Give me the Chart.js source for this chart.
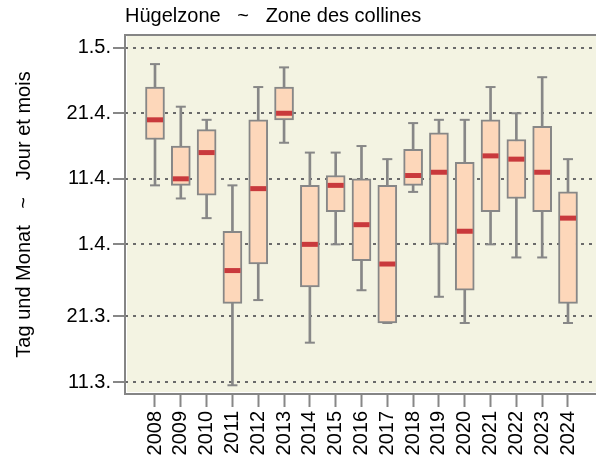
<!DOCTYPE html>
<html><head><meta charset="utf-8">
<script src="https://cdn.jsdelivr.net/npm/chart.js@4.4.1/dist/chart.umd.min.js"></script>
<style>html,body{margin:0;padding:0;background:#fff}canvas{display:block}</style>
</head><body>
<canvas id="c" width="596" height="466"></canvas>
<script>
// Values are days counted from 1 March (1 = 1.3., 32 = 1.4., 62 = 1.5.)
const years       = ['2008','2009','2010','2011','2012','2013','2014','2015','2016','2017','2018','2019','2020','2021','2022','2023','2024'];
const whiskerLow  = [41,   39,  36,   10.5, 23.5, 47.5, 17,   32,  25,   20,  40,   24,  20,   32,   30,  30,   20];
const boxLow      = [48,   41,  39.5, 23,   29,   51,   25.5, 37,  29.5, 20,  41,   32,  25,   37,   39,  37,   23];
const medians     = [51,   42,  46,   28,   40.5, 52,   32,   41,  35,   29,  42.5, 43,  34,   45.5, 45,  43,   36];
const boxHigh     = [56,   47,  49.5, 34,   51,   56,   41,   42.5,42,   41,  46.5, 49,  44.5, 51,   48,  50,   40];
const whiskerHigh = [59.5, 53,  51,   41,   56,   59,   46,   46,  47,   45,  50.5, 51,  51,   56,   52,  57.5, 45];
const yTickValues = [11, 21, 32, 42, 52, 62];
const yTickLabels = ['11.3.', '21.3.', '1.4.', '11.4.', '21.4.', '1.5.'];

const FONT = "'Liberation Sans', Arial, sans-serif";
const GRAY = '#878787';

const frame = {
  id: 'frame',
  beforeDraw(chart) {
    const {ctx, chartArea: a} = chart;
    ctx.save();
    ctx.fillStyle = '#f3f3e2';
    ctx.fillRect(a.left + 2, a.top + 1, a.right - a.left, a.bottom - a.top - 3);
    ctx.restore();
  },
  afterDraw(chart) {
    const {ctx, chartArea: a} = chart;
    ctx.save();
    ctx.strokeStyle = '#858585';
    ctx.lineWidth = 2;
    ctx.beginPath();
    ctx.moveTo(a.right + 4, a.top);
    ctx.lineTo(a.left, a.top);
    ctx.lineTo(a.left, a.bottom);
    ctx.lineTo(a.right + 4, a.bottom);
    ctx.stroke();
    ctx.restore();
  }
};

const idx = years.map((_, i) => i);

new Chart(document.getElementById('c'), {
  data: {
    datasets: [
      {
        type: 'scatter', label: 'median',
        data: idx.map(i => ({x: i, y: medians[i]})),
        pointStyle: 'line', radius: 8, hoverRadius: 8,
        borderColor: '#c9393c', borderWidth: 5, pointBorderWidth: 5
      },
      {
        type: 'scatter', label: 'capHigh',
        data: idx.map(i => ({x: i, y: whiskerHigh[i]})),
        pointStyle: 'line', radius: 5, hoverRadius: 5,
        borderColor: GRAY, borderWidth: 2
      },
      {
        type: 'scatter', label: 'capLow',
        data: idx.map(i => ({x: i, y: whiskerLow[i]})),
        pointStyle: 'line', radius: 5, hoverRadius: 5,
        borderColor: GRAY, borderWidth: 2
      },
      {
        type: 'bar', label: 'box', grouped: false,
        data: idx.map(i => ({x: i, y: [boxLow[i], boxHigh[i]]})),
        backgroundColor: '#fdd7ba', borderColor: GRAY, borderWidth: 2,
        borderSkipped: false, barThickness: 19
      },
      {
        type: 'bar', label: 'whisker', grouped: false,
        data: idx.map(i => ({x: i, y: [whiskerLow[i], whiskerHigh[i]]})),
        backgroundColor: GRAY, borderWidth: 0, barThickness: 2
      }
    ]
  },
  options: {
    responsive: false,
    animation: false,
    devicePixelRatio: 1,
    layout: {autoPadding: false, padding: {left: 0, right: 0, top: 0, bottom: 0}},
    plugins: {
      legend: {display: false},
      tooltip: {enabled: false},
      title: {
        display: true, text: 'Hügelzone   ~   Zone des collines',
        align: 'start', fullSize: false, color: '#000',
        font: {family: FONT, size: 20, weight: 'normal'},
        padding: {top: 4, bottom: 7}
      }
    },
    scales: {
      x: {
        type: 'linear', min: -1.162, max: 17.085, offset: false,
        afterBuildTicks: s => { s.ticks = idx.map(i => ({value: i})); },
        afterFit: s => { s.height = 72; s.paddingLeft = 0; s.paddingRight = 0; },
        grid: {offset: false, drawOnChartArea: false, drawTicks: true, tickLength: 13, tickColor: GRAY, tickWidth: 2},
        border: {display: false},
        ticks: {
          autoSkip: false, minRotation: 90, maxRotation: 90, padding: 4,
          color: '#000', font: {family: FONT, size: 20},
          callback: (v, i) => years[i]
        }
      },
      y: {
        type: 'linear', min: 9.169, max: 63.94,
        afterBuildTicks: s => { s.ticks = yTickValues.map(v => ({value: v})); },
        afterFit: s => { s.width = 125; },
        grid: {color: '#6a6a6a', lineWidth: 2, drawTicks: true, tickLength: 12, tickColor: GRAY, tickWidth: 2, tickBorderDash: []},
        border: {display: false, dash: [3, 5]},
        ticks: {
          padding: 2, color: '#000', font: {family: FONT, size: 20},
          callback: (v, i) => yTickLabels[i]
        },
        title: {
          display: true, text: 'Tag und Monat   ~   Jour et mois', color: '#000',
          font: {family: FONT, size: 20}, padding: {top: 12, bottom: 0}
        }
      }
    }
  },
  plugins: [frame]
});
</script>
</body></html>
